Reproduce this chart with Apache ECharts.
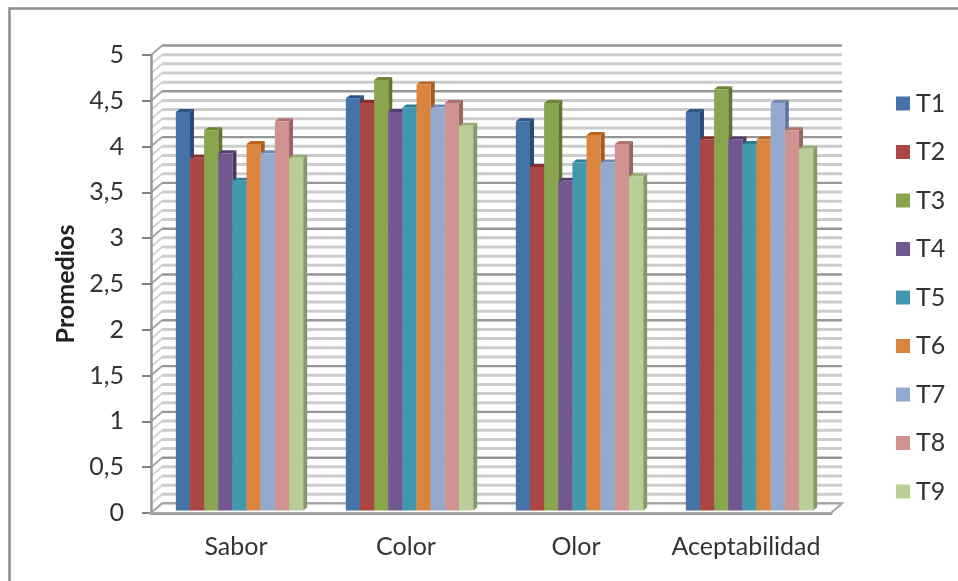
<!DOCTYPE html>
<html><head><meta charset="utf-8">
<style>html,body{margin:0;padding:0;background:#fff}#c{width:958px;height:581px}</style>
<script src="https://cdn.jsdelivr.net/npm/echarts@6/dist/echarts.min.js"></script>
</head><body><div id="c"></div>
<script>
const categories = ['Sabor','Color','Olor','Aceptabilidad'];
const seriesNames = ['T1','T2','T3','T4','T5','T6','T7','T8','T9'];
const T1 = [4.35,4.5,4.25,4.35];
const T2 = [3.85,4.45,3.75,4.05];
const T3 = [4.15,4.7,4.45,4.6];
const T4 = [3.9,4.35,3.6,4.05];
const T5 = [3.6,4.4,3.8,4.0];
const T6 = [4.0,4.65,4.1,4.05];
const T7 = [3.9,4.4,3.8,4.45];
const T8 = [4.25,4.45,4.0,4.15];
const T9 = [3.85,4.2,3.65,3.95];
const seriesValues = [T1,T2,T3,T4,T5,T6,T7,T8,T9];
const colors = ['#4572A7','#AA4643','#89A54E','#71588F','#4198AF','#DB843D','#93A9CF','#D19392','#B9CD96'];
const topColors = ['#2F5488','#8A2F2C','#6B8435','#533D72','#2A7D93','#B86622','#7089B3','#AE7271','#98AE74'];
const sideColors = ['#2B4A75','#7E2B29','#5F7530','#4A3665','#266F83','#A45B1E','#64799F','#9B6564','#86996A'];
const yMinorTicks = [];
for (let k = 0; k <= 50; k++) yMinorTicks.push(k / 10);

const wallDx = 11, wallDy = -9.5;
const barDx = 4, barDy = -3;
const barInsetX = 3.5, barInsetY = -2.5;
const barW = 14.15;
const font = 'Lato, "Noto Sans", sans-serif';
const GRID = {left:151, top:55, width:680, height:458};

function wallItem(params, api) {
  const v = api.value(0);
  const major = Math.abs(v * 2 - Math.round(v * 2)) < 1e-6;
  const cs = params.coordSys;
  const y = api.coord([0, v])[1];
  const stroke = major ? '#969696' : '#cccccc';
  const w = major ? 2.4 : 3;
  const xL = cs.x, xR = cs.x + cs.width;
  return {type:'group', silent:true, children:[
    {type:'line', shape:{x1:xL+wallDx, y1:y+wallDy, x2:xR+wallDx, y2:y+wallDy}, style:{stroke, lineWidth:w}},
    {type:'line', shape:{x1:xL, y1:y, x2:xL+wallDx, y2:y+wallDy}, style:{stroke:major?'#a6a6a6':'#d2d2d2', lineWidth:2}}
  ]};
}
function barItem(si) {
  return function (params, api) {
    const i = api.value(0), v = api.value(1);
    const base = api.coord([i, 0]), top = api.coord([i, v]);
    const groupW = barW * 9;
    const x = base[0] - groupW / 2 + si * barW + barInsetX;
    const yT = top[1] + barInsetY, yB = base[1] + barInsetY;
    const d = barDx, e = barDy;
    return {type:'group', children:[
      {type:'polygon', shape:{points:[[x+barW,yT],[x+barW+d,yT+e],[x+barW+d,yB+e],[x+barW,yB]]}, style:{fill:sideColors[si]}},
      {type:'polygon', shape:{points:[[x,yT],[x+d,yT+e],[x+barW+d,yT+e],[x+barW,yT]]}, style:{fill:topColors[si]}},
      {type:'rect', shape:{x, y:yT, width:barW, height:yB-yT}, style:{fill:colors[si]}}
    ]};
  };
}
const chart = echarts.init(document.getElementById('c'), null, {renderer:'canvas'});
chart.setOption({
  animation:false,
  backgroundColor:'#fff',
  textStyle:{fontFamily:font},
  graphic:[{type:'polyline', silent:true, z:-1,
    shape:{points:[[9.5,581],[9.5,8.5],[958,8.5]]},
    style:{stroke:'#8c8c8c', lineWidth:2.5, fill:null}}],
  grid:GRID,
  legend:{
    orient:'vertical', left:891, top:86, itemWidth:14, itemHeight:14, itemGap:23.5,
    icon:'rect', data:seriesNames,
    textStyle:{fontFamily:font, fontSize:25, color:'#333', padding:[0,0,0,1]}
  },
  xAxis:{
    type:'category', data:categories,
    axisLine:{show:true, lineStyle:{color:'#969696', width:3}},
    axisTick:{show:false}, splitLine:{show:false},
    axisLabel:{fontFamily:font, fontSize:25, color:'#333', margin:21, interval:0}
  },
  yAxis:{
    type:'value', min:0, max:5, interval:0.5,
    name:'Promedios', nameLocation:'middle', nameGap:69, nameRotate:90,
    nameTextStyle:{fontFamily:font, fontSize:25, fontWeight:'bold', color:'#222'},
    axisLine:{show:true, lineStyle:{color:'#969696', width:2.5}},
    axisTick:{show:true, length:9, lineStyle:{color:'#808080', width:2}},
    splitLine:{show:false},
    axisLabel:{fontFamily:font, fontSize:25, color:'#333', margin:27, padding:[3,0,0,0],
      formatter:v => String(v).replace('.', ',')}
  },
  series:[
    {type:'custom', name:'wall', coordinateSystem:'cartesian2d', z:0, silent:true,
      encode:{x:1,y:0}, data:yMinorTicks.map(v=>[v,0]), renderItem:wallItem, clip:false},
    {type:'custom', name:'floor', coordinateSystem:'cartesian2d', z:1, silent:true,
      data:[[0]], clip:false,
      renderItem:(p,api)=>{const c=p.coordSys;const y=c.y+c.height;return {type:'polygon',shape:{points:[[c.x,y],[c.x+wallDx,y+wallDy],[c.x+c.width+wallDx,y+wallDy],[c.x+c.width,y]]},style:{fill:'#fff',stroke:'#a6a6a6',lineWidth:2}};}},
    ...seriesNames.map((n,si)=>({
      type:'custom', name:n, coordinateSystem:'cartesian2d', z:2+si, clip:false,
      itemStyle:{color:colors[si]},
      encode:{x:0,y:1},
      data:seriesValues[si].map((v,i)=>[i,v]),
      renderItem:barItem(si)
    }))
  ]
});
</script></body></html>
